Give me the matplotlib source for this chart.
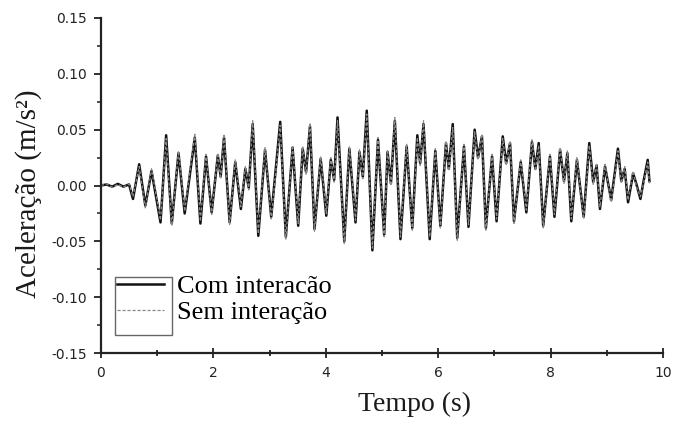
import matplotlib
matplotlib.use('Agg')
import matplotlib.pyplot as plt
from matplotlib.patches import Rectangle

# extrema (time in s, acceleration in m/s2)
tempo = [0.00, 0.10, 0.20, 0.30, 0.40, 0.50, 0.57, 0.68, 0.79, 0.90,
         1.06, 1.16, 1.26, 1.38, 1.49, 1.67, 1.77, 1.87, 1.97, 2.08,
         2.13, 2.19, 2.29, 2.39, 2.49, 2.57, 2.63, 2.70, 2.80, 2.92,
         3.03, 3.19, 3.29, 3.41, 3.51, 3.59, 3.65, 3.72, 3.80, 3.91,
         4.01, 4.09, 4.15, 4.21, 4.33, 4.42, 4.53, 4.60, 4.66, 4.73,
         4.83, 4.93, 5.04, 5.10, 5.16, 5.23, 5.33, 5.44, 5.54, 5.63,
         5.68, 5.74, 5.85, 5.95, 6.04, 6.14, 6.19, 6.26, 6.34, 6.46,
         6.54, 6.65, 6.71, 6.78, 6.85, 6.96, 7.04, 7.15, 7.21, 7.28,
         7.35, 7.47, 7.57, 7.67, 7.73, 7.79, 7.87, 7.99, 8.07, 8.17,
         8.24, 8.30, 8.37, 8.47, 8.59, 8.69, 8.76, 8.82, 8.88, 8.97,
         9.08, 9.20, 9.26, 9.32, 9.38, 9.47, 9.53, 9.60, 9.66, 9.73,
         9.76]

com_interacao = [0.000, 0.001, -0.001, 0.0015, -0.001, 0.001, -0.012, 0.019, -0.018, 0.013,
                 -0.033, 0.045, -0.034, 0.029, -0.025, 0.043, -0.034, 0.026, -0.024, 0.027,
                 0.008, 0.043, -0.033, 0.021, -0.021, 0.015, -0.002, 0.055, -0.045, 0.032,
                 -0.028, 0.057, -0.046, 0.034, -0.036, 0.033, 0.012, 0.053, -0.039, 0.024,
                 -0.027, 0.023, 0.005, 0.061, -0.050, 0.033, -0.033, 0.030, 0.008, 0.067,
                 -0.058, 0.041, -0.044, 0.030, 0.002, 0.058, -0.048, 0.035, -0.038, 0.045,
                 0.020, 0.055, -0.048, 0.031, -0.036, 0.038, 0.015, 0.055, -0.047, 0.035,
                 -0.037, 0.050, 0.025, 0.044, -0.038, 0.026, -0.032, 0.044, 0.020, 0.038,
                 -0.032, 0.021, -0.024, 0.039, 0.015, 0.038, -0.036, 0.026, -0.028, 0.032,
                 0.004, 0.029, -0.032, 0.023, -0.028, 0.038, 0.003, 0.018, -0.021, 0.017,
                 -0.013, 0.033, 0.004, 0.015, -0.015, 0.011, 0.001, -0.012, 0.005, 0.023,
                 0.004]

sem_interacao = [0.000, 0.0015, -0.0015, 0.001, -0.0015, 0.0015, -0.010, 0.017, -0.020, 0.015,
                 -0.031, 0.042, -0.036, 0.031, -0.023, 0.046, -0.032, 0.028, -0.026, 0.029,
                 0.006, 0.046, -0.035, 0.023, -0.019, 0.017, -0.004, 0.058, -0.043, 0.034,
                 -0.030, 0.054, -0.048, 0.036, -0.034, 0.035, 0.010, 0.056, -0.041, 0.026,
                 -0.025, 0.025, 0.003, 0.058, -0.052, 0.035, -0.031, 0.032, 0.006, 0.064,
                 -0.056, 0.043, -0.046, 0.032, 0.000, 0.061, -0.046, 0.037, -0.040, 0.043,
                 0.018, 0.058, -0.046, 0.033, -0.038, 0.040, 0.013, 0.052, -0.049, 0.037,
                 -0.035, 0.048, 0.023, 0.046, -0.040, 0.028, -0.030, 0.042, 0.018, 0.040,
                 -0.034, 0.023, -0.022, 0.041, 0.013, 0.036, -0.038, 0.028, -0.026, 0.034,
                 0.002, 0.031, -0.030, 0.025, -0.030, 0.036, 0.001, 0.020, -0.019, 0.019,
                 -0.015, 0.031, 0.002, 0.017, -0.013, 0.013, -0.001, -0.010, 0.003, 0.021,
                 0.002]

serif = ['Liberation Serif', 'DejaVu Serif']

fig = plt.figure(figsize=(6.73, 4.28), dpi=100)
ax = fig.add_axes([0.150, 0.175, 0.835, 0.783])

ax.plot(tempo, com_interacao, color='#111111', lw=1.8, label='Com interacão')
ax.plot(tempo, sem_interacao, color='#8a8a8a', lw=0.9, ls=(0, (2.5, 1.5)), label='Sem interação')

ax.set_xlim(0, 10)
ax.set_ylim(-0.15, 0.15)
ax.set_xticks([0, 2, 4, 6, 8, 10])
ax.set_xticks([1, 3, 5, 7, 9], minor=True)
ax.set_yticks([-0.15, -0.10, -0.05, 0.00, 0.05, 0.10, 0.15])
ax.set_yticks([-0.125, -0.075, -0.025, 0.025, 0.075, 0.125], minor=True)
ax.set_yticklabels(['-0.15', '-0.10', '-0.05', '0.00', '0.05', '0.10', '0.15'])

for s in ['top', 'right']:
    ax.spines[s].set_visible(False)
for s in ['left', 'bottom']:
    ax.spines[s].set_linewidth(1.6)
    ax.spines[s].set_color('#222222')

ax.tick_params(axis='x', which='major', direction='inout', length=7, width=1.3,
               labelsize=10, colors='#222222', pad=6)
ax.tick_params(axis='x', which='minor', direction='inout', length=5, width=1.3, colors='#222222')
ax.tick_params(axis='y', which='major', direction='out', length=5, width=1.3,
               labelsize=10, colors='#222222', pad=5)
ax.tick_params(axis='y', which='minor', direction='out', length=3, width=1.1, colors='#222222')

ax.set_xlabel('Tempo (s)', fontsize=20, family=serif, color='#1a1a1a')
ax.xaxis.set_label_coords(0.558, -0.115)
ax.set_ylabel('Aceleração (m/s²)', fontsize=21, family=serif, color='#1a1a1a')
ax.yaxis.set_label_coords(-0.105, 0.475)

leg = ax.legend(loc='upper left', bbox_to_anchor=(0.028, 0.235), frameon=False,
                borderpad=0, borderaxespad=0, handlelength=1.8, handletextpad=0.5,
                labelspacing=0.12, prop={'family': serif, 'size': 19})
ax.add_patch(Rectangle((0.025, 0.054), 0.101, 0.173, transform=ax.transAxes,
                       fill=False, ec='#666666', lw=1.0, clip_on=False))

fig.savefig('out.png', dpi=100)
